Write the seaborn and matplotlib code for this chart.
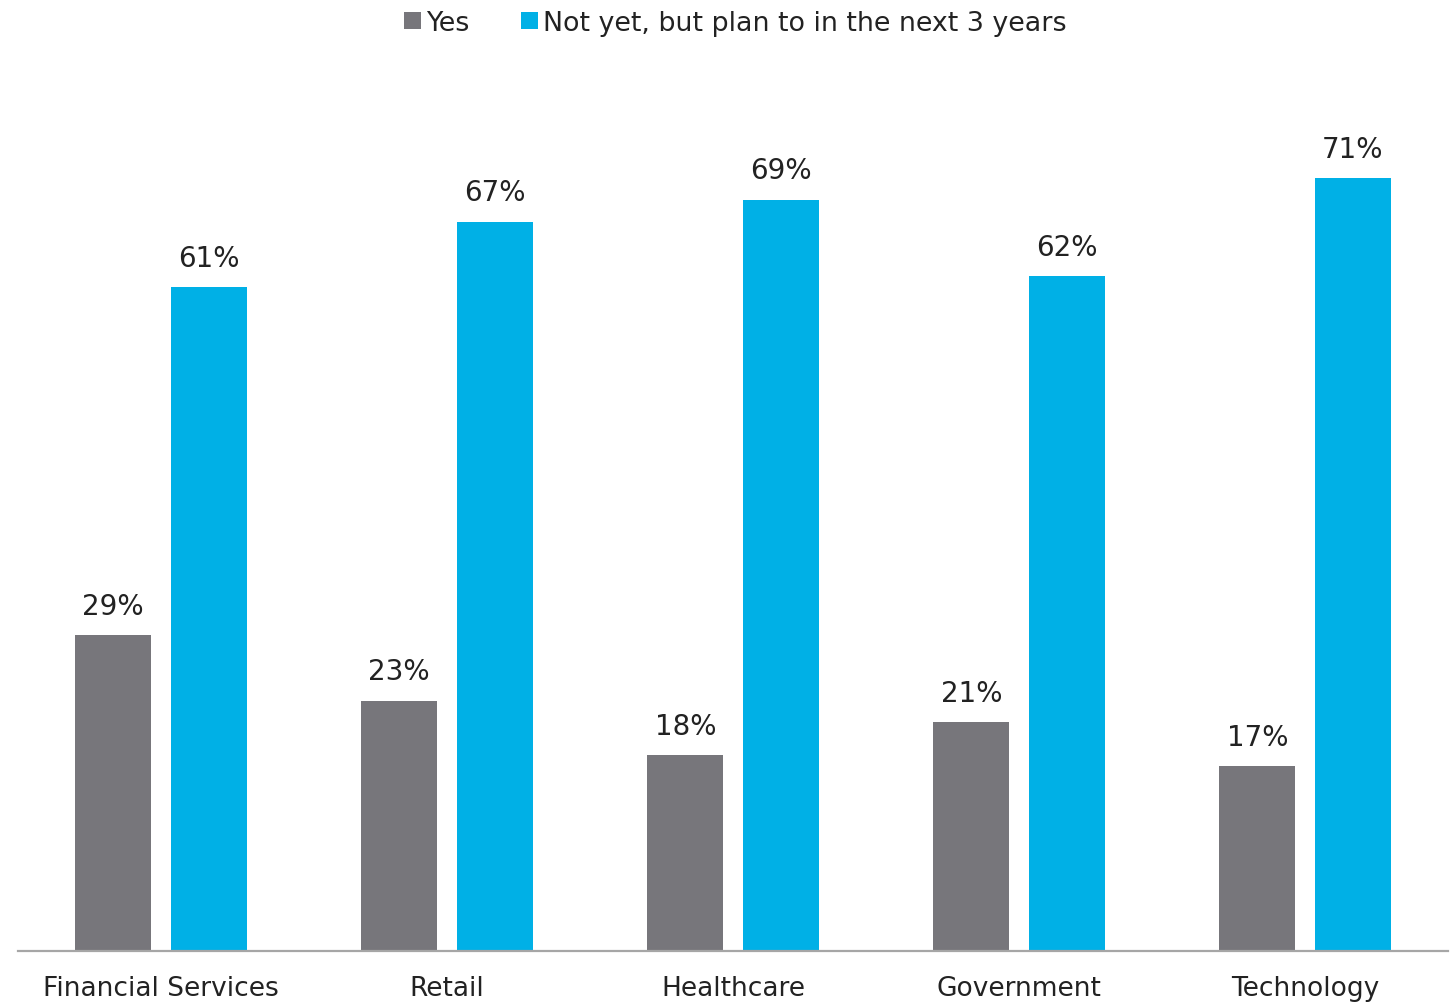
import matplotlib
matplotlib.use("Agg")
import matplotlib.pyplot as plt
import seaborn as sns
import pandas as pd
from matplotlib.patches import Patch

categories = ["Financial Services", "Retail", "Healthcare", "Government", "Technology"]
yes_values = [29, 23, 18, 21, 17]
plan_values = [61, 67, 69, 62, 71]
series_names = ["Yes", "Not yet, but plan to in the next 3 years"]
colors = ["#77767b", "#00b0e6"]

df = pd.DataFrame({
    "Sector": categories * 2,
    "Share": yes_values + plan_values,
    "Response": [series_names[0]] * len(categories) + [series_names[1]] * len(categories),
})

sns.set_theme(style="white")
plt.rcParams["font.family"] = ["DejaVu Sans"]

fig = plt.figure(figsize=(14.51, 10.03), dpi=100)
ax = fig.add_axes([18 / 1451, 51 / 1003, 1430 / 1451, 871 / 1003])

sns.barplot(data=df, x="Sector", y="Share", hue="Response", order=categories,
            hue_order=series_names, palette=colors, width=0.667, gap=0.2,
            saturation=1, legend=False, linewidth=0, ax=ax)

ax.set_ylim(0, 80)
ax.set_xlim(-0.5, len(categories) - 0.5)
ax.set_xlabel("")
ax.set_ylabel("")
ax.set_yticks([])
for side in ["top", "right", "left"]:
    ax.spines[side].set_visible(False)
ax.spines["bottom"].set_color("#a6a6a6")
ax.spines["bottom"].set_linewidth(1.6)
ax.tick_params(axis="x", length=0, pad=17, labelsize=19, labelcolor="#222222")

for container in ax.containers:
    ax.bar_label(container, labels=[f"{v:.0f}%" for v in container.datavalues],
                 padding=11, fontsize=20, color="#222222")

handles = [Patch(facecolor=c, edgecolor="none") for c in colors]
fig.legend(handles, series_names, loc="upper center", bbox_to_anchor=(0.507, 1.013),
           ncol=2, frameon=False, fontsize=19.4, handlelength=0.62, handleheight=0.62,
           handletextpad=0.2, columnspacing=1.9, labelcolor="#222222")

fig.savefig("out.png", dpi=100)
